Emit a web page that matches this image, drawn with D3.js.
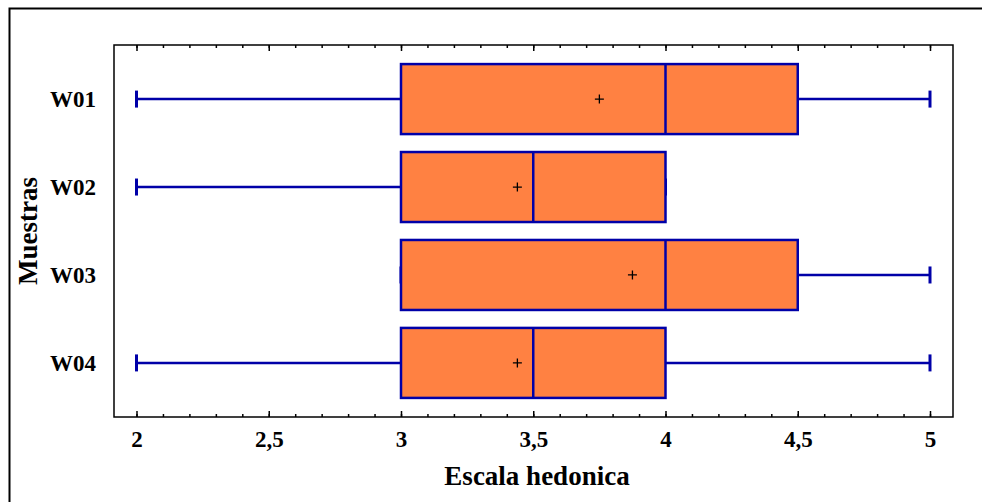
<!DOCTYPE html>
<html>
<head>
<meta charset="utf-8">
<script src="https://cdn.jsdelivr.net/npm/d3@7"></script>
<style>
  body { margin: 0; background: #fff; }
  svg text { font-family: "Liberation Serif", "Times New Roman", serif; font-weight: bold; fill: #000; }
</style>
</head>
<body>
<svg id="chart" width="982" height="502"></svg>
<script>
// box plot values
var muestras = ["W01", "W02", "W03", "W04"];
var minimos  = [2, 2, 3, 2];
var q1       = [3, 3, 3, 3];
var medianas = [4, 3.5, 4, 3.5];
var q3       = [4.5, 4, 4.5, 4];
var maximos  = [5, 4, 5, 5];
var medias   = [3.75, 3.44, 3.875, 3.44];
var xTicks   = [2, 2.5, 3, 3.5, 4, 4.5, 5];

var svg = d3.select("#chart");
var pLeft = 114, pRight = 953, pTop = 45, pBottom = 417;
var azul = "#0000a8", naranja = "#ff8142";

// outer frame
svg.append("rect")
    .attr("x", 9.5).attr("y", 8.5)
    .attr("width", 990).attr("height", 520)
    .attr("fill", "none").attr("stroke", "#000").attr("stroke-width", 2);

var x = d3.scaleLinear().domain([2, 5]).range([136.5, 930]);
var y = d3.scalePoint().domain(muestras).range([pTop, pBottom]).padding(0.615);

// plot frame
svg.append("rect")
    .attr("x", pLeft).attr("y", pTop)
    .attr("width", pRight - pLeft).attr("height", pBottom - pTop)
    .attr("fill", "none").attr("stroke", "#000").attr("stroke-width", 1.5);

// bottom and top axes, ticks inside
var minor = d3.range(20, 51).map(function (d) { return d / 10; });
svg.append("g")
    .attr("transform", "translate(0," + pBottom + ")")
    .call(d3.axisBottom(x).tickValues(minor).tickSize(-3).tickFormat(""))
    .call(function (g) { g.select(".domain").remove(); });
svg.append("g")
    .attr("transform", "translate(0," + pTop + ")")
    .call(d3.axisTop(x).tickValues(minor).tickSize(-3).tickFormat(""))
    .call(function (g) { g.select(".domain").remove(); });

var ejeX = svg.append("g")
    .attr("transform", "translate(0," + pBottom + ")")
    .call(d3.axisBottom(x).tickValues(xTicks).tickSize(-6).tickPadding(14)
        .tickFormat(function (d) { return String(d).replace(".", ","); }));
ejeX.select(".domain").remove();
ejeX.attr("font-size", 23).attr("font-family", null);
svg.append("g")
    .attr("transform", "translate(0," + pTop + ")")
    .call(d3.axisTop(x).tickValues(xTicks).tickSize(-6).tickFormat(""))
    .call(function (g) { g.select(".domain").remove(); });
svg.selectAll(".tick line").attr("stroke-width", 1.5);

// category labels
var ejeY = svg.append("g")
    .attr("transform", "translate(" + pLeft + ",0)")
    .call(d3.axisLeft(y).tickSize(0).tickPadding(18));
ejeY.select(".domain").remove();
ejeY.attr("font-size", 23).attr("font-family", null);

// axis titles
svg.append("text")
    .attr("x", 537).attr("y", 485)
    .attr("text-anchor", "middle").attr("font-size", 27)
    .text("Escala hedonica");
svg.append("text")
    .attr("transform", "translate(37," + (pTop + pBottom) / 2 + ") rotate(-90)")
    .attr("text-anchor", "middle").attr("font-size", 27)
    .text("Muestras");

var half = 35, cap = 8.5;
var cajas = svg.append("g").selectAll("g")
    .data(muestras).join("g");

// whiskers
cajas.append("line")
    .attr("x1", function (d, i) { return x(minimos[i]); })
    .attr("x2", function (d, i) { return x(q1[i]); })
    .attr("y1", function (d) { return y(d); }).attr("y2", function (d) { return y(d); })
    .attr("stroke", azul).attr("stroke-width", 2.5);
cajas.append("line")
    .attr("x1", function (d, i) { return x(q3[i]); })
    .attr("x2", function (d, i) { return x(maximos[i]); })
    .attr("y1", function (d) { return y(d); }).attr("y2", function (d) { return y(d); })
    .attr("stroke", azul).attr("stroke-width", 2.5);
cajas.append("line")
    .attr("x1", function (d, i) { return x(minimos[i]); })
    .attr("x2", function (d, i) { return x(minimos[i]); })
    .attr("y1", function (d) { return y(d) - cap; }).attr("y2", function (d) { return y(d) + cap; })
    .attr("stroke", azul).attr("stroke-width", 3);
cajas.append("line")
    .attr("x1", function (d, i) { return x(maximos[i]); })
    .attr("x2", function (d, i) { return x(maximos[i]); })
    .attr("y1", function (d) { return y(d) - cap; }).attr("y2", function (d) { return y(d) + cap; })
    .attr("stroke", azul).attr("stroke-width", 3);

// boxes
cajas.append("rect")
    .attr("x", function (d, i) { return x(q1[i]); })
    .attr("width", function (d, i) { return x(q3[i]) - x(q1[i]); })
    .attr("y", function (d) { return y(d) - half; })
    .attr("height", half * 2)
    .attr("fill", naranja).attr("stroke", azul).attr("stroke-width", 2.5);
cajas.append("line")
    .attr("x1", function (d, i) { return x(medianas[i]); })
    .attr("x2", function (d, i) { return x(medianas[i]); })
    .attr("y1", function (d) { return y(d) - half; }).attr("y2", function (d) { return y(d) + half; })
    .attr("stroke", azul).attr("stroke-width", 2.5);

// mean markers
cajas.append("path")
    .attr("d", function (d, i) {
        var cx = x(medias[i]), cy = y(d);
        return "M" + (cx - 4.5) + "," + cy + "H" + (cx + 4.5) + "M" + cx + "," + (cy - 4.5) + "V" + (cy + 4.5);
    })
    .attr("stroke", "#000").attr("stroke-width", 1.3);
</script>
</body>
</html>
